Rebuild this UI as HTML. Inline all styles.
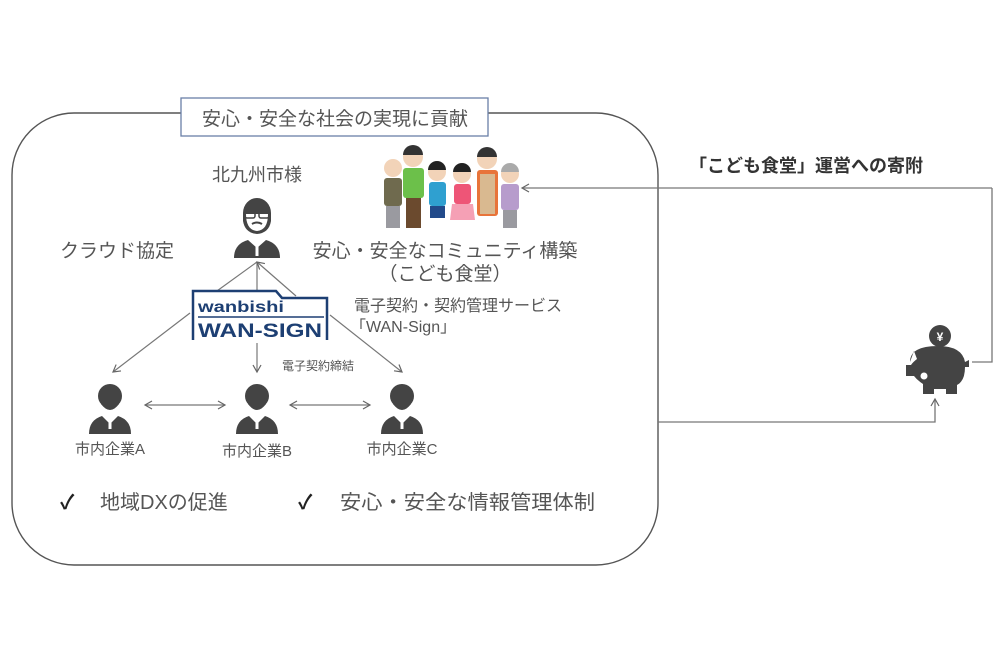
<!DOCTYPE html>
<html><head><meta charset="utf-8"><style>
html,body{margin:0;padding:0;background:#fff;}
svg{display:block;}
text{font-family:"Liberation Sans","Noto Sans CJK JP",sans-serif;fill:#555;}
</style></head><body>
<svg width="1000" height="667" viewBox="0 0 1000 667" xmlns="http://www.w3.org/2000/svg">
<defs>
<marker id="ah" markerWidth="10" markerHeight="10" refX="8" refY="5" orient="auto" markerUnits="userSpaceOnUse">
<path d="M1,1 L8,5 L1,9" fill="none" stroke="#666" stroke-width="1.2"/></marker>
<g id="biz">
<circle cx="0" cy="-24" r="12" fill="#444"/>
<path d="M-9,-20 q9,-8 18,0 l0,4 q-9,12 -18,0z" fill="#444"/>
<path d="M-21,14 q0,-14 13,-18 l8,8 l8,-8 q13,4 13,18z" fill="#444"/>
<rect x="-1.5" y="-4" width="3" height="13" fill="#fff"/>
</g>
</defs>
<rect x="12" y="113" width="646" height="452" rx="62" fill="none" stroke="#555" stroke-width="1.4"/>
<rect x="181" y="98" width="307" height="38" fill="#fff" stroke="#6a7fa8" stroke-width="1.3"/>
<text x="335" y="125" font-size="19" text-anchor="middle">安心・安全な社会の実現に貢献</text>

<polyline points="992,188 992,362 972,362" fill="none" stroke="#777" stroke-width="1.3"/>
<line x1="992" y1="188" x2="522" y2="188" stroke="#777" stroke-width="1.3" marker-end="url(#ah)"/>
<polyline points="658,422 935,422 935,399" fill="none" stroke="#777" stroke-width="1.3" marker-end="url(#ah)"/>
<text x="806" y="172" font-size="18" font-weight="bold" text-anchor="middle" style="fill:#333">「こども食堂」運営への寄附</text>

<circle cx="940" cy="336" r="11" fill="#444"/>
<text x="940" y="341" font-size="12" text-anchor="middle" font-weight="bold" style="fill:#fff">¥</text>
<path d="M910,362 q0,-16 28,-16 q24,0 27,16 l4,-2 l0,7 l-4,0 q0,14 -8,18 l0,9 l-11,0 l0,-5 l-12,0 l0,5 l-11,0 l0,-10 q-6,-4 -9,-8 l-8,0 l0,-11 l5,0 q2,-3 6,-6 l-3,-8 z" fill="#444"/>
<circle cx="924" cy="376" r="3.5" fill="#fff"/>

<text x="257" y="181" font-size="18" text-anchor="middle">北九州市様</text>
<path d="M243,213 a14,15 0 1 1 28,0 l0,8 q-2,12 -14,13 q-12,-1 -14,-13z" fill="#444"/>
<path d="M246,214 q0,16 11,17 q11,-1 11,-17z" fill="#fff"/>
<rect x="245" y="212" width="10" height="6" rx="2" fill="none" stroke="#444" stroke-width="1.5"/>
<rect x="259" y="212" width="10" height="6" rx="2" fill="none" stroke="#444" stroke-width="1.5"/>
<path d="M252,224 q5,-3 10,0" stroke="#444" stroke-width="2" fill="none"/>
<path d="M234,258 q0,-14 14,-18 l9,8 l9,-8 q14,4 14,18z" fill="#444"/>
<rect x="255.5" y="244" width="3" height="12" fill="#fff"/>
<text x="117" y="257" font-size="19" text-anchor="middle">クラウド協定</text>

<line x1="210" y1="296" x2="257" y2="262" stroke="#777" stroke-width="1.2"/>
<line x1="257" y1="296" x2="257" y2="262" stroke="#777" stroke-width="1.2"/>
<line x1="296" y1="296" x2="257" y2="262" stroke="#777" stroke-width="1.2" marker-end="url(#ah)"/>

<g>
<circle cx="393" cy="168" r="9" fill="#f2d3b8"/>
<rect x="384" y="178" width="18" height="28" rx="3" fill="#6f6a4e"/>
<rect x="386" y="206" width="14" height="22" fill="#9a9aa0"/>
<circle cx="413" cy="157" r="10" fill="#f2d3b8"/><path d="M403,155 a10,10 0 0 1 20,0z" fill="#333"/>
<rect x="403" y="168" width="21" height="30" rx="3" fill="#6cc04a"/>
<rect x="406" y="198" width="15" height="30" fill="#6b4a2e"/>
<circle cx="437" cy="172" r="9" fill="#f2d3b8"/><path d="M428,170 a9,9 0 0 1 18,0z" fill="#222"/>
<rect x="429" y="182" width="17" height="24" rx="3" fill="#2fa0d0"/>
<rect x="430" y="206" width="15" height="12" fill="#224a8a"/>
<circle cx="462" cy="174" r="9" fill="#f2d3b8"/><path d="M453,172 a9,9 0 0 1 18,0z" fill="#222"/>
<rect x="454" y="184" width="17" height="20" rx="3" fill="#ee5577"/>
<path d="M452,204 l21,0 l2,16 l-25,0z" fill="#f5a0b5"/>
<circle cx="487" cy="159" r="10" fill="#f2d3b8"/><path d="M477,157 a10,10 0 0 1 20,0z" fill="#333"/>
<rect x="477" y="170" width="21" height="46" rx="3" fill="#e8743a"/>
<rect x="480" y="174" width="15" height="40" fill="#d9b990"/>
<circle cx="510" cy="174" r="9" fill="#f2d3b8"/><path d="M501,172 a9,9 0 0 1 18,0z" fill="#aaa"/>
<rect x="501" y="184" width="18" height="26" rx="3" fill="#b79ccc"/>
<rect x="503" y="210" width="14" height="18" fill="#9a9aa0"/>
</g>
<text x="445" y="257" font-size="19" text-anchor="middle">安心・安全なコミュニティ構築</text>
<text x="445" y="280" font-size="19" text-anchor="middle">（こども食堂）</text>

<path d="M193,340 L193,291 L276,291 L282,298 L327,298 L327,340" fill="#fff" stroke="#1d3f73" stroke-width="2.5"/>
<text x="198" y="312" font-size="16" font-weight="bold" style="fill:#1d3f73" textLength="86" lengthAdjust="spacingAndGlyphs">wanbishi</text>
<line x1="198" y1="317" x2="324" y2="317" stroke="#1d3f73" stroke-width="1.5"/>
<text x="198" y="337" font-size="19" font-weight="bold" style="fill:#1d3f73" textLength="124" lengthAdjust="spacingAndGlyphs">WAN-SIGN</text>

<text x="458" y="311" font-size="16" text-anchor="middle">電子契約・契約管理サービス</text>
<text x="350" y="332" font-size="16">「WAN-Sign」</text>
<text x="282" y="370" font-size="12">電子契約締結</text>

<line x1="190" y1="313" x2="113" y2="372" stroke="#777" stroke-width="1.2" marker-end="url(#ah)"/>
<line x1="257" y1="343" x2="257" y2="372" stroke="#777" stroke-width="1.2" marker-end="url(#ah)"/>
<line x1="330" y1="315" x2="402" y2="372" stroke="#777" stroke-width="1.2" marker-end="url(#ah)"/>

<use href="#biz" x="110" y="420"/>
<use href="#biz" x="257" y="420"/>
<use href="#biz" x="402" y="420"/>
<line x1="145" y1="405" x2="225" y2="405" stroke="#777" stroke-width="1.2" marker-end="url(#ah)"/>
<path d="M152,401 L145,405 L152,409" fill="none" stroke="#666" stroke-width="1.2"/>
<line x1="290" y1="405" x2="370" y2="405" stroke="#777" stroke-width="1.2" marker-end="url(#ah)"/>
<path d="M297,401 L290,405 L297,409" fill="none" stroke="#666" stroke-width="1.2"/>

<text x="110" y="454" font-size="15" text-anchor="middle">市内企業A</text>
<text x="257" y="456" font-size="15" text-anchor="middle">市内企業B</text>
<text x="402" y="454" font-size="15" text-anchor="middle">市内企業C</text>

<text x="60" y="509" font-size="20" font-weight="bold" style="fill:#222">✓</text>
<text x="100" y="509" font-size="20">地域DXの促進</text>
<text x="298" y="509" font-size="20" font-weight="bold" style="fill:#222">✓</text>
<text x="340" y="509" font-size="20" textLength="255" lengthAdjust="spacingAndGlyphs">安心・安全な情報管理体制</text>
</svg>
</body></html>
